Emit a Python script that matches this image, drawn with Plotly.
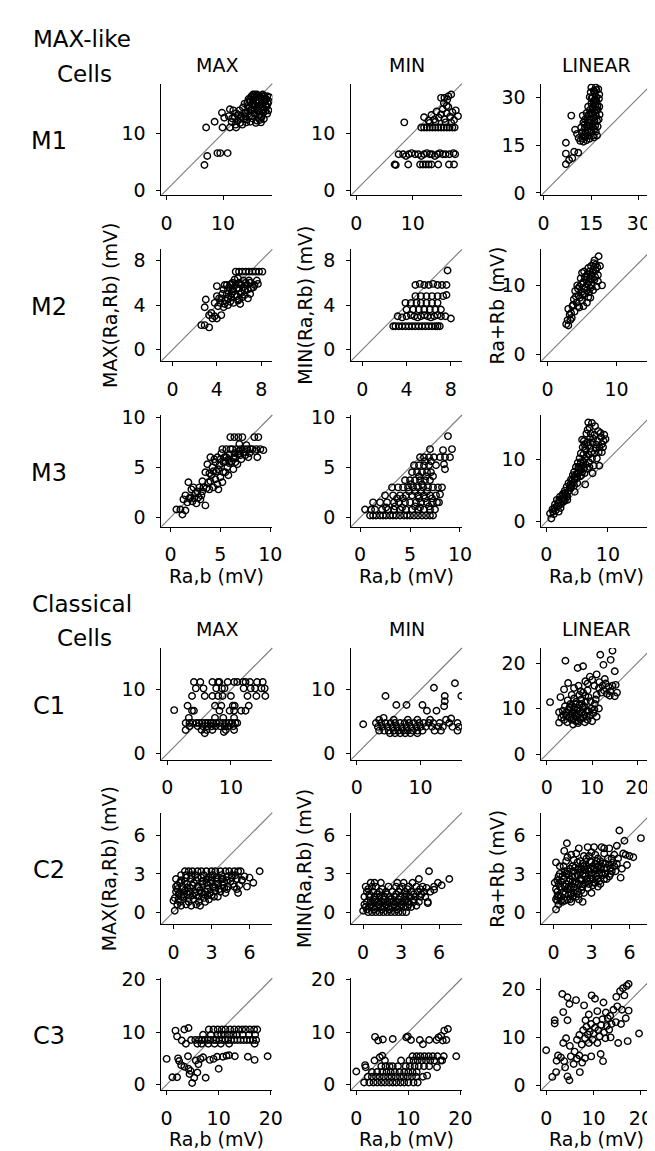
import plotly.graph_objects as go

# ---------------- data ----------------
m1_max = [(7.0,11.0),(8.5,12.0),(9.8,13.6),(10.2,12.7),(9.9,11.0),(11.2,11.0),(12.3,11.0),(9.0,6.5),(9.5,6.5),(10.8,6.5),(7.2,6.0),(6.7,4.4),
          (11.2,14.2),(11.8,14.0),(11.0,13.0),(11.6,12.6),
          (11.5,12.0),(12.0,12.8),(12.3,13.5),(12.6,12.2),(12.9,14.0),(13.0,11.8),(13.2,13.0),(13.5,14.5),(13.6,12.5),(13.8,15.2),(14.0,13.6),(14.1,11.9),
          (14.3,14.8),(14.5,16.0),(14.6,13.0),(14.8,15.5),(15.0,16.5),(15.0,14.2),(15.2,12.6),(15.3,15.8),(15.5,16.5),(15.5,13.5),(15.7,14.9),(15.9,16.5),
          (16.0,12.2),(16.0,15.3),(16.2,16.5),(16.3,14.0),(16.4,13.2),(16.5,16.5),(16.6,15.0),(16.8,12.8),(16.9,16.5),(17.0,14.5),(17.1,13.6),(17.3,16.5),
          (17.4,15.5),(17.5,13.9),(17.6,16.0),(17.8,16.5),(18.0,14.0),(17.2,12.5),(14.2,12.4),(13.4,11.5),(15.8,11.8),(16.7,11.9),(12.2,11.5),(17.7,14.7),
          (14.9,14.0),(13.9,13.0),(15.4,15.0),(16.1,13.9),(18.2,16.3),(15.1,16.2),(14.7,15.8),(16.6,16.2),(17.0,16.8),(16.0,16.8),(15.6,16.8),
          (15.2,15.0),(15.8,15.6),(16.4,15.6),(17.0,15.2),(16.2,14.6),(15.6,14.2),(17.5,15.0),(16.9,14.0),(14.4,13.8),(13.7,13.6),(14.8,12.0),
          (17.9,15.2),(16.5,12.3),(15.0,13.0),(17.3,14.2),(13.1,12.6),(12.7,13.2),(14.6,14.6),(17.8,13.4),(16.7,13.0),(18.1,15.6),(17.2,16.0),
          (15.3,16.8),(14.3,15.4)]

m1_min = [(6.8,4.5),(7.0,4.4),(9.2,4.5),(11.3,4.5),(11.8,4.5),(12.3,4.5),(12.8,4.5),(13.3,4.5),(14.5,4.5),(16.4,4.5),(17.3,4.5),
          (7.5,6.3),(8.3,6.3),(8.8,6.0),(9.3,6.3),(9.8,6.5),(10.4,6.3),(11.0,6.3),(11.5,6.0),(12.0,6.3),(12.5,6.5),(13.0,6.3),(13.4,6.3),
          (13.9,6.0),(14.4,6.3),(14.8,6.5),(15.3,6.3),(15.8,6.3),(16.5,6.3),(17.2,6.5),(17.5,6.3),
          (11.5,11.0),(12.0,11.0),(12.5,11.0),(13.0,11.0),(13.5,11.0),(14.0,11.0),(14.5,11.0),(15.0,11.0),(15.5,11.0),(16.0,11.0),(16.5,11.0),(17.0,11.0),(17.4,11.0),
          (12.0,12.8),(12.8,12.2),(13.3,13.2),(13.8,12.4),(14.2,13.8),(14.6,12.7),(15.0,13.3),(15.3,14.2),(15.6,12.5),(16.0,13.5),(16.3,14.6),(16.6,12.9),
          (17.0,13.7),(17.3,12.3),(17.6,14.0),(18.0,13.0),(14.0,12.0),(15.8,11.9),(16.8,11.8),(13.0,11.8),(16.0,14.8),(15.5,15.3),
          (15.0,16.2),(15.6,16.2),(16.3,16.5),(16.8,16.8),(16.1,15.9),(8.5,11.9)]

m1_lin = [(7.0,15.7),(7.0,12.3),(7.0,9.0),(8.0,10.3),(9.0,10.9),(9.6,12.9),(10.9,12.6),(8.7,24.2),(9.9,19.8),
          (10.5,18.5),(11.0,17.2),(11.5,16.3),(12.0,19.0),(12.2,17.0),(12.5,16.0),(12.8,18.3),(13.0,20.5),(13.2,17.5),(13.5,16.5),(13.7,19.5),
          (13.9,22.0),(14.0,18.0),(14.2,24.5),(14.3,21.0),(14.5,17.0),(14.6,26.0),(14.8,23.0),(15.0,19.5),(15.0,28.0),(15.2,25.0),(15.3,21.5),
          (15.4,30.0),(15.5,27.0),(15.6,18.0),(15.7,23.5),(15.8,32.0),(15.9,29.0),(16.0,25.5),(16.1,31.0),(16.2,21.0),(16.3,27.5),(16.4,33.0),
          (16.5,24.0),(16.6,30.0),(16.7,28.5),(16.8,22.5),(17.0,26.0),(17.2,32.5),(17.4,29.5),(17.6,24.5),(14.0,27.0),(13.5,25.0),(13.0,23.0),
          (12.5,22.0),(14.5,30.0),(15.0,33.0),(16.0,20.0),(11.8,20.5),(12.3,24.2),(14.8,31.5),(17.0,20.8),(16.8,18.0),
          (15.5,20.5),(16.0,22.5),(16.5,26.0),(16.9,27.2),(16.2,29.0),(15.9,31.8),(16.6,32.2),(15.3,26.4),(14.9,24.8),(14.4,22.8),(13.8,20.8),
          (13.3,18.8),(12.6,17.6),(14.9,19.0),(15.8,17.4),(16.4,19.2),(17.3,23.0),(17.5,27.0),(17.5,30.8),(16.3,24.8),(15.7,28.5),(15.1,29.6),
          (13.8,23.8),(12.9,21.5)]

m2_max = [(2.6,2.2),(2.9,2.2),(3.3,2.0),(2.9,3.8),(3.0,4.5),(3.3,3.1),(3.6,2.8),(4.0,2.8),(4.4,3.1),(3.8,3.0),(4.0,4.8),(4.0,5.7),(4.3,4.2),
          (4.5,5.0),(4.6,3.8),(4.7,5.8),(4.8,4.4),(5.0,5.3),(5.0,4.0),(5.2,5.8),(5.3,4.7),(5.4,6.0),(5.5,5.2),(5.5,4.2),(5.7,5.8),(5.8,4.8),
          (5.9,6.4),(6.0,5.5),(6.1,4.1),(6.2,5.8),(6.3,4.7),(6.4,6.2),(6.5,5.3),(6.6,7.0),(6.7,5.8),(6.8,4.6),(6.9,7.0),(7.0,6.0),(7.2,7.0),
          (7.3,5.6),(7.4,5.8),(7.5,7.0),(7.7,5.9),(7.8,7.0),(8.1,7.0),(6.0,7.0),(5.7,7.0),(6.3,7.0),(5.6,6.3),(4.9,5.8),(5.3,5.0),(6.0,4.5),
          (4.2,4.6),(7.0,5.0),(5.0,4.6),
          (4.4,4.6),(4.6,5.4),(4.9,5.0),(5.1,5.6),(5.2,4.3),(5.4,5.4),(5.6,4.9),(5.8,5.5),(5.9,4.4),(6.1,5.9),(6.2,5.1),(6.4,5.6),(6.5,4.9),
          (6.6,6.0),(6.8,5.4),(6.9,6.2),(7.1,5.5),(5.3,5.9),(4.7,4.1),(6.0,6.0),(7.6,6.2),(4.1,3.9),(3.5,3.3),(3.8,4.2)]

m2_min = [(2.8,2.1),(3.0,2.1),(3.3,2.1),(3.6,2.1),(3.9,2.1),(4.2,2.1),(4.5,2.1),(4.8,2.1),(5.1,2.1),(5.4,2.1),(5.7,2.1),(6.0,2.1),(6.3,2.1),
          (6.6,2.1),(6.8,2.1),(7.0,2.1),
          (3.2,3.0),(3.6,2.9),(4.0,3.0),(4.4,3.1),(4.7,3.0),(5.0,2.9),(5.3,3.0),(5.6,3.1),(5.9,3.0),(6.2,2.9),(6.5,3.0),(6.8,3.1),(7.1,3.0),(7.5,3.0),
          (4.0,3.6),(4.6,3.6),(5.1,3.6),(5.6,3.6),(6.1,3.6),(6.6,3.6),(7.1,3.6),
          (3.9,4.2),(4.4,4.2),(4.9,4.2),(5.3,4.2),(5.8,4.2),(6.3,4.2),(6.8,4.2),
          (4.8,4.8),(5.3,4.8),(5.8,4.8),(6.3,4.8),(6.8,4.8),(7.3,4.8),
          (4.8,5.8),(5.2,5.9),(5.6,5.8),(6.0,5.8),(6.4,5.9),(6.8,5.8),(7.2,5.8),
          (7.7,7.1),(8.0,2.8),(7.6,4.9),(7.6,5.8)]

m2_lin = [(2.7,4.4),(3.0,4.2),(2.9,5.0),(3.2,5.8),(3.0,6.6),(3.5,5.3),(3.6,7.0),(3.9,6.2),(3.8,8.0),(4.0,9.2),(4.2,7.5),(4.3,10.0),
          (4.5,8.5),(4.6,6.8),(4.8,11.0),(4.9,9.0),(5.0,7.8),(5.2,10.5),(5.3,12.0),(5.4,8.8),(5.5,9.8),(5.6,11.3),(5.7,7.5),(5.8,10.2),
          (5.9,12.5),(6.0,9.0),(6.1,11.0),(6.2,8.2),(6.3,12.8),(6.4,10.0),(6.5,11.8),(6.6,9.3),(6.7,13.2),(6.8,10.8),(7.0,12.2),(7.1,9.8),
          (7.3,11.5),(7.4,14.2),(7.6,12.8),(7.9,10.0),(5.0,11.8),(4.4,9.5),(3.4,6.0),(6.0,10.5),(5.6,10.8),(6.4,11.5),(7.0,13.0),(4.7,8.2),(5.3,9.5),
          (4.6,9.8),(5.1,8.6),(5.4,11.2),(5.8,11.6),(6.2,9.6),(6.6,12.2),(6.9,11.2),(7.2,12.6),(6.1,12.0),(5.7,9.3),(4.9,10.2),(4.1,8.4),
          (3.7,7.2),(6.8,13.6),(7.3,10.6),(5.9,8.3),(6.3,10.9),(5.2,7.0),(4.4,7.0),(3.3,5.0)]

m3_max = [(0.6,0.8),(1.0,0.8),(1.2,0.3),(1.5,0.7),(1.3,1.8),(1.5,2.2),(1.7,1.5),(1.8,3.5),(2.0,2.0),(2.2,1.6),(2.3,3.0),(2.5,2.4),(2.6,1.4),
          (2.8,2.0),(2.9,3.0),(3.0,1.8),(3.2,2.6),(3.3,3.0),(3.5,1.2),(3.5,4.5),(3.7,5.3),(3.8,3.5),(3.9,2.8),(4.0,6.0),(4.1,4.2),(4.2,5.0),
          (4.3,3.0),(4.4,5.8),(4.5,3.8),(4.6,4.6),(4.7,6.0),(4.8,2.8),(4.9,5.2),(5.0,4.0),(5.1,6.4),(5.2,3.5),(5.3,5.5),(5.4,6.0),(5.5,4.5),
          (5.6,6.8),(5.7,5.0),(5.8,4.2),(5.9,6.3),(6.0,8.0),(6.1,5.6),(6.2,6.8),(6.3,4.8),(6.4,8.0),(6.5,6.0),(6.6,6.8),(6.7,5.3),(6.8,8.0),
          (6.9,6.6),(7.0,6.8),(7.1,5.8),(7.2,8.0),(7.4,6.8),(7.5,6.2),(7.7,6.8),(7.8,6.0),(8.0,6.8),(8.2,6.8),(8.4,8.0),(8.6,6.8),(8.8,8.0),
          (9.0,6.8),(9.3,6.7),(8.7,6.0),(5.0,5.8),(4.3,4.6),(5.8,5.8),(6.5,5.5),(3.6,2.9),(2.7,2.6),
          (4.5,5.5),(5.3,4.5),(5.9,5.4),(6.4,6.4),(7.0,6.2),(6.0,6.8),(5.2,6.8),(5.6,6.0),(4.8,4.8),(4.0,3.6),(3.2,3.6),(6.8,6.3),(7.3,6.5),
          (7.9,6.4),(8.5,6.6),(6.3,5.9),(5.5,5.6),(4.7,3.3),(3.9,4.4),(2.1,2.8),(1.9,1.9),(2.4,1.9),(3.1,2.2),(6.9,7.3),(7.6,7.2)]

m3_min = [(1.0,0.2),(1.3,0.2),(1.6,0.2),(2.0,0.2),(2.3,0.2),(2.6,0.2),(3.0,0.2),(3.3,0.2),(3.6,0.2),(4.0,0.2),(4.4,0.2),(4.7,0.2),(5.0,0.2),
          (5.4,0.2),(5.8,0.2),(6.2,0.2),(6.6,0.2),(7.0,0.2),(7.3,0.2),
          (0.5,0.8),(1.1,0.8),(1.5,0.8),(2.2,0.8),(2.8,0.8),(3.4,0.8),(4.0,0.8),(4.6,0.8),(5.2,0.8),(5.8,0.8),(6.4,0.8),(7.0,0.8),(7.5,0.8),
          (1.3,1.5),(2.0,1.5),(2.7,1.5),(3.4,1.5),(3.9,1.5),(4.5,1.5),(5.0,1.5),(5.6,1.5),(6.1,1.5),(6.7,1.5),(7.2,1.5),(7.7,1.5),
          (2.5,2.2),(3.3,2.2),(4.0,2.2),(4.6,2.2),(5.2,2.2),(5.8,2.2),(6.4,2.2),(7.0,2.2),(7.6,2.2),
          (3.2,3.0),(3.8,3.0),(4.3,3.0),(4.8,3.0),(5.3,3.0),(5.8,3.0),(6.3,3.0),(6.8,3.0),(7.3,3.0),(7.8,3.0),(8.2,3.0),
          (4.5,3.7),(5.0,3.7),(5.5,3.7),(6.0,3.7),(6.5,3.7),(7.0,3.7),
          (5.2,4.5),(5.7,4.5),(6.2,4.5),(6.7,4.5),(7.1,4.5),
          (5.4,5.2),(5.9,5.2),(6.4,5.2),(6.9,5.2),(7.6,5.2),
          (6.0,6.0),(6.4,6.0),(6.9,6.0),(7.4,6.0),(8.0,6.0),(8.5,6.0),(9.0,6.0),
          (7.0,6.8),(8.3,6.7),(9.2,6.8),(8.8,8.1),(8.5,4.8),(8.0,2.3),(7.9,1.5),(8.4,5.3),
          (2.6,1.0),(3.5,1.1),(4.2,1.0),(5.5,1.1),(6.0,1.0),(6.9,1.1),(4.9,2.6),(5.5,2.6),(6.1,2.6),(6.7,2.6),(5.1,3.3),(6.2,3.3),
          (6.6,4.1),(5.9,4.1),(7.3,4.1),(6.5,5.6),(7.1,5.6),(3.7,1.9),(4.3,1.9),(5.9,1.9),(6.5,1.9),(7.2,1.9)]

m3_lin = [(0.6,1.3),(0.8,0.5),(1.0,2.0),(1.2,1.2),(1.4,2.8),(1.5,1.8),(1.7,3.5),(1.9,2.5),(2.0,3.0),(2.2,4.0),(2.4,2.8),(2.5,3.6),
          (2.7,4.5),(2.9,3.8),(3.0,5.0),(3.2,4.2),(3.3,5.6),(3.5,4.8),(3.6,6.2),(3.8,5.5),(4.0,6.8),(4.1,5.8),(4.3,7.5),(4.4,6.3),(4.5,8.0),
          (4.7,6.8),(4.8,8.8),(5.0,7.2),(5.1,9.5),(5.2,7.8),(5.4,10.2),(5.5,8.4),(5.6,11.0),(5.8,9.0),(5.9,12.0),(6.0,9.6),(6.1,13.0),
          (6.3,10.2),(6.4,11.5),(6.5,14.2),(6.6,8.5),(6.8,12.3),(6.9,10.8),(7.0,15.2),(7.1,13.5),(7.3,11.2),(7.5,12.8),(7.7,9.0),(7.8,14.0),
          (8.0,11.8),(8.3,13.0),(8.6,12.0),(9.0,12.5),(9.3,13.0),(9.6,13.3),(8.8,14.3),(7.4,15.9),(6.2,12.5),(5.3,8.5),(4.6,7.2),(3.9,6.0),
          (2.6,4.2),(1.1,1.6),(3.4,3.5),(5.7,7.5),(6.7,14.8),
          (1.3,2.2),(1.6,2.4),(2.1,3.5),(2.3,2.2),(2.8,3.2),(3.1,4.6),(3.4,4.0),(3.7,5.0),(4.0,5.4),(4.2,6.6),(4.5,5.8),(4.8,7.6),(5.0,6.2),
          (5.2,8.8),(5.5,7.3),(5.6,9.6),(5.8,8.0),(6.0,10.8),(6.1,8.6),(6.3,11.8),(6.4,9.2),(6.6,10.5),(6.7,12.8),(6.9,9.6),(7.1,11.8),
          (7.2,14.2),(7.4,10.2),(7.6,13.4),(7.8,11.0),(8.1,12.4),(8.4,14.6),(8.5,11.2),(8.9,13.6),(9.2,12.0),(3.0,3.4),(2.0,1.6),(4.6,4.8),
          (6.2,7.8),(7.0,8.8),(8.2,10.2),(9.0,11.2),(6.8,16.0),(5.8,13.2),(7.9,15.4),(9.4,14.0),(6.3,6.0),(7.5,7.8),(8.6,9.0)]

c1_max = [(1.1,6.8),
          (4.2,11.2),(5.2,11.2),(7.1,11.2),(8.0,11.2),(8.2,11.2),(9.5,11.2),(10.5,11.2),(11.0,11.2),(11.9,11.2),(12.3,11.2),(13.0,11.2),(14.1,11.2),(15.0,11.2),
          (4.5,10.2),(5.7,10.2),(7.7,10.2),(8.6,10.2),(9.0,10.2),(12.0,10.2),(13.1,10.2),(13.8,10.2),(14.8,10.2),(15.3,10.2),
          (3.9,9.0),(5.9,9.0),(7.1,9.0),(8.0,9.0),(8.7,9.0),(10.0,9.0),(12.6,9.0),(14.0,9.0),(15.4,9.0),
          (3.2,7.5),(7.5,7.5),(8.5,7.5),(10.3,7.5),(10.6,7.5),(12.8,7.5),
          (3.9,6.7),(4.2,6.7),(8.2,6.7),(9.8,6.7),(10.5,6.7),(11.6,6.7),(12.3,6.7),
          (3.4,5.6),(7.5,5.6),(8.8,5.6),(10.5,5.6),
          (2.9,4.8),(3.5,4.8),(4.0,4.8),(4.6,4.8),(5.0,4.8),(5.5,4.8),(6.0,4.8),(6.4,4.8),(6.8,4.8),(7.2,4.8),(7.7,4.8),(8.2,4.8),(8.7,4.8),
          (9.2,4.8),(9.7,4.8),(10.2,4.8),(10.7,4.8),(11.0,4.8),
          (3.5,4.3),(4.8,4.3),(5.6,4.3),(6.3,4.3),(7.0,4.3),(7.6,4.3),(8.3,4.3),(9.0,4.3),(9.6,4.3),(10.4,4.3),
          (2.9,3.7),(5.4,3.7),(6.2,3.7),(7.1,3.7),(9.2,3.7),(10.5,3.7),(5.9,3.2),(8.9,3.4)]

c1_min = [(1.0,4.6),(4.5,9.0),(6.2,7.6),(7.8,7.6),(10.3,7.6),(12.1,10.3),(13.8,9.0),(15.4,11.0),(16.4,9.0),(13.7,7.4),(13.8,8.2),(11.0,6.7),
          (12.5,6.7),(14.8,5.5),(4.2,5.6),
          (3.0,4.8),(3.8,4.8),(4.5,4.8),(5.3,4.8),(6.0,4.8),(6.8,4.8),(7.5,4.8),(8.2,4.8),(9.0,4.8),(9.8,4.8),(10.5,4.8),(11.3,4.8),(12.0,4.8),
          (13.0,4.8),(14.5,4.8),(15.8,4.8),
          (3.3,4.2),(4.0,4.2),(4.8,4.2),(5.6,4.2),(6.3,4.2),(7.0,4.2),(7.8,4.2),(8.5,4.2),(9.3,4.2),(10.0,4.2),(10.8,4.2),(11.8,4.2),(12.8,4.2),
          (13.5,4.2),(15.0,4.2),(16.0,4.2),
          (3.5,3.6),(4.3,3.6),(5.0,3.6),(5.8,3.6),(6.5,3.6),(7.3,3.6),(8.0,3.6),(8.8,3.6),(9.5,3.6),(10.3,3.6),(12.2,3.6),(13.2,3.6),(15.8,3.6),
          (5.2,3.2),(6.0,3.2),(6.8,3.2),(7.6,3.2),(8.4,3.2),(9.5,3.2),
          (3.5,5.3),(5.8,5.3),(8.0,5.3),(9.5,5.3),(11.5,5.3),(14.0,5.3)]

c1_lin = [(0.7,11.4),(2.7,9.2),(2.7,6.9),(3.0,12.5),(3.8,14.2),(4.1,20.5),(4.7,15.6),(6.8,18.9),(8.0,19.3),(11.8,21.8),(12.5,19.6),
          (14.1,20.7),(14.5,22.7),(15.0,18.2),(15.0,12.7),(5.5,13.0),(6.0,14.5),(7.0,15.0),(8.5,16.0),(9.0,15.5),(9.5,17.0),(10.0,16.3),
          (10.5,15.0),(11.0,17.5),(7.5,13.8),
          (3.2,8.0),(3.5,9.5),(3.8,7.5),(4.0,10.5),(4.3,8.5),(4.5,7.0),(4.8,9.8),(5.0,8.0),(5.2,11.0),(5.5,7.5),(5.6,9.2),(5.8,6.5),(6.0,10.2),
          (6.2,8.4),(6.4,7.2),(6.5,11.5),(6.7,9.6),(6.9,6.8),(7.0,8.8),(7.2,10.8),(7.4,7.6),(7.6,12.0),(7.8,9.2),(8.0,8.0),(8.2,10.5),(8.4,7.0),
          (8.6,11.5),(8.8,9.5),(9.0,7.5),(9.2,12.5),(9.5,8.5),(9.8,10.0),(10.0,7.2),(10.3,9.0),(10.6,11.0),(11.0,8.2),(6.0,12.2),(7.2,13.0),
          (5.0,10.2),(4.6,11.8),(8.0,13.5),(9.0,14.0),
          (11.0,13.0),(11.5,14.5),(12.0,13.5),(12.3,15.0),(12.6,14.0),(13.0,15.5),(13.3,13.2),(13.6,14.8),(14.0,13.8),(14.5,15.0),(15.2,15.2),
          (15.5,13.5),(10.8,12.0),(11.6,15.8),(12.8,16.5),(13.9,12.8),
          (5.3,8.6),(6.1,9.0),(6.6,8.2),(7.3,9.4),(7.9,10.2),(8.3,8.6),(6.8,10.2),(5.9,7.8),(7.0,7.2),(8.8,8.3),(9.3,9.4),(6.3,11.0),
          (7.7,11.0),(5.6,10.6),(4.4,9.2),(3.6,8.6),(9.7,11.6),(8.5,12.8),(10.5,9.8),(11.5,10.0)]

c2_max = [(0.9,3.2),(1.2,3.2),(1.5,3.2),(1.9,3.2),(2.2,3.2),(2.6,3.2),(3.0,3.2),(3.3,3.2),(3.7,3.2),(4.1,3.2),(4.4,3.2),(4.8,3.2),(5.1,3.2),(5.3,3.2),
          (0.2,2.6),(0.6,2.5),(1.0,2.7),(1.4,2.6),(1.8,2.5),(2.2,2.7),(2.6,2.6),(3.0,2.5),(3.4,2.7),(3.8,2.6),(4.2,2.5),(4.6,2.7),(5.0,2.6),(5.4,2.5),
          (0.3,2.1),(0.7,2.0),(1.1,2.2),(1.5,2.1),(1.9,2.0),(2.3,2.2),(2.7,2.1),(3.1,2.0),(3.5,2.2),(3.9,2.1),(4.3,2.0),(4.7,2.2),(5.2,2.1),(5.8,2.0),
          (0.2,1.6),(0.5,1.5),(0.9,1.7),(1.3,1.6),(1.7,1.5),(2.1,1.7),(2.5,1.6),(2.9,1.5),(3.3,1.7),(3.7,1.6),(4.1,1.5),(5.1,1.5),
          (0.1,1.1),(0.4,1.0),(0.8,1.2),(1.2,1.1),(1.6,1.0),(2.0,1.2),(2.4,1.1),(2.8,1.0),(3.2,1.2),
          (0.3,0.6),(0.6,0.5),(1.0,0.6),(1.4,0.5),(1.8,0.6),(2.1,0.5),
          (0.1,0.1),(6.8,3.2),(6.3,2.3),(5.4,2.5),(6.0,2.7),(4.0,1.9),(3.5,1.2),(2.5,0.8),(0.0,0.9),
          (0.4,1.4),(0.7,1.8),(0.5,0.8),(0.9,2.4),(1.1,1.4),(1.3,1.9),(1.6,2.3),(1.8,1.3),(2.0,1.9),(2.3,2.4),(2.4,1.4),(2.7,1.8),(2.9,2.3),
          (3.0,1.3),(3.2,2.0),(3.4,2.4),(3.6,1.8),(3.8,2.9),(4.0,2.3),(4.3,2.8),(4.5,2.4),(4.8,2.0),(4.9,2.9),(1.0,2.9),(1.7,2.9),(2.4,2.9),
          (3.1,2.9),(0.6,2.9),(2.0,0.8),(1.2,0.8),(1.5,1.3),(0.3,1.8),(3.5,2.6),(2.8,2.7),(5.6,2.8),(5.0,1.8),
          (0.2,2.0),(0.5,2.3),(0.8,1.4),(1.4,2.9),(2.2,1.5),(2.6,2.3),(3.3,1.9),(3.9,2.6),(4.2,1.8),(4.6,2.9),(1.9,2.7),(0.6,1.2),(1.1,1.9),
          (2.7,1.3),(3.0,2.7)]

c2_min = [(0.4,0.0),(0.7,0.0),(1.0,0.0),(1.3,0.0),(1.6,0.0),(1.9,0.0),(2.2,0.0),(2.5,0.0),(2.8,0.0),(3.1,0.0),(3.4,0.0),
          (0.2,0.4),(0.5,0.4),(0.8,0.4),(1.1,0.4),(1.4,0.4),(1.7,0.4),(2.0,0.4),(2.3,0.4),(2.6,0.4),(2.9,0.4),(3.2,0.4),(3.5,0.4),(3.8,0.4),
          (0.3,0.8),(0.6,0.8),(0.9,0.8),(1.2,0.8),(1.5,0.8),(1.8,0.8),(2.1,0.8),(2.4,0.8),(2.7,0.8),(3.0,0.8),(3.3,0.8),(3.6,0.8),(4.0,0.8),(4.4,0.8),(5.1,0.8),
          (0.1,1.2),(0.5,1.2),(0.9,1.2),(1.3,1.2),(1.7,1.2),(2.1,1.2),(2.5,1.2),(2.9,1.2),(3.3,1.2),(3.7,1.2),(4.1,1.2),(4.5,1.2),(4.9,1.2),
          (0.3,1.6),(0.8,1.6),(1.3,1.6),(1.8,1.6),(2.3,1.6),(2.8,1.6),(3.3,1.6),(3.8,1.6),(4.3,1.6),(4.8,1.6),(5.3,1.6),
          (0.2,2.0),(0.7,2.0),(1.0,2.0),(2.0,2.0),(2.6,2.0),(3.1,2.0),(3.6,2.0),(4.2,2.0),(4.7,2.0),(5.6,2.0),
          (0.6,2.3),(0.9,2.3),(1.4,2.3),(2.7,2.3),(3.2,2.3),(3.9,2.3),
          (0.0,0.1),(5.2,3.2),(6.8,2.6),(6.2,2.1),(5.6,1.75),(5.1,0.7),(4.4,2.6),(5.9,2.3),
          (0.3,0.2),(0.9,0.2),(1.5,0.2),(2.1,0.2),(2.7,0.2),(0.6,0.6),(1.2,0.6),(1.8,0.6),(2.4,0.6),(3.0,0.6),(3.6,0.6),(1.0,1.0),(1.6,1.0),
          (2.2,1.0),(2.8,1.0),(3.4,1.0),(4.0,1.0),(0.5,1.4),(1.1,1.4),(1.9,1.4),(2.6,1.4),(3.4,1.4),(4.0,1.4),(4.6,1.4),(0.4,1.8),(1.5,1.8),
          (2.9,1.8),(3.5,1.8),(4.5,1.8),(5.0,1.9),(0.1,0.6),(4.2,0.5)]

c2_lin = [(0.2,0.2),(0.1,2.3),(0.2,3.9),(1.06,5.4),(0.85,4.8),(2.8,4.4),(2.7,5.1),(5.2,6.4),(5.6,5.6),(6.9,5.8),(6.0,4.4),(6.3,4.3),
          (5.8,3.7),(5.3,2.7),(4.5,3.0),(3.8,5.1),(4.0,4.6),(4.8,4.5),(5.0,5.2),(3.5,4.2),
          (0.2,1.0),(0.3,1.6),(0.4,0.6),(0.5,2.0),(0.6,1.2),(0.7,2.8),(0.8,1.6),(0.9,0.9),(1.0,2.2),(1.1,3.2),(1.2,1.4),(1.3,2.6),(1.4,0.8),
          (1.5,3.6),(1.6,1.9),(1.7,2.8),(1.8,1.2),(1.9,3.3),(2.0,2.2),(2.1,4.0),(2.2,1.7),(2.3,2.9),(2.4,3.6),(2.5,2.3),(2.6,4.2),(2.7,1.9),
          (2.8,3.2),(2.9,2.6),(3.0,3.9),(3.1,2.1),(3.2,3.4),(3.3,4.5),(3.4,2.8),(3.5,3.6),(3.6,2.4),(3.7,4.0),(3.8,3.1),(3.9,3.8),(4.0,2.6),
          (4.2,3.5),(4.3,4.2),(4.5,3.4),(4.7,3.9),(4.9,3.2),(1.0,4.0),(0.5,3.0),(1.4,4.5),(2.0,5.0),(1.8,4.6),(0.3,2.5),(2.3,0.8),(2.0,3.4),
          (1.2,2.0),(0.6,1.9),(3.0,1.5),(2.5,3.3),(1.5,2.4),(3.5,2.0),(4.0,5.0),(3.2,5.1),
          (0.4,1.3),(0.7,0.8),(0.9,2.0),(1.1,1.0),(1.3,1.8),(1.5,1.2),(1.7,2.2),(1.9,1.6),(2.1,2.6),(2.3,2.0),(2.5,2.8),(2.7,2.4),(2.9,3.4),
          (3.1,2.6),(3.3,3.0),(3.5,2.6),(3.7,3.4),(3.9,2.9),(4.1,3.8),(4.4,2.8),(0.6,2.4),(1.2,3.0),(1.6,3.2),(2.2,3.4),(0.8,3.6),(1.9,3.9),
          (2.6,3.6),(3.4,4.0),(4.6,4.2),(0.3,0.9),(1.4,1.4),(2.4,1.5),(3.3,2.3),(4.1,3.0),(5.0,3.8),(5.5,4.6),(4.4,5.0),(0.5,3.6),
          (0.2,1.8),(0.4,2.2),(0.6,0.9),(0.8,2.6),(0.9,1.4),(1.0,3.0),(1.1,1.8),(1.2,2.4),(1.3,3.4),(1.4,2.0),(1.5,2.8),(1.6,1.5),(1.7,3.5),
          (1.8,2.4),(1.9,2.9),(2.0,1.4),(2.1,3.1),(2.2,2.5),(2.3,3.8),(2.4,2.2),(2.5,3.0),(2.6,2.6),(2.7,3.4),(2.8,2.2),(2.9,4.0),(3.0,2.9),
          (3.1,3.6),(3.2,2.3),(3.3,3.8),(3.4,3.3),(3.6,3.0),(3.7,2.2),(3.8,3.6),(4.0,3.4),(4.2,2.6),(4.4,3.7),(4.6,3.2),(4.8,3.6),(5.1,4.2),
          (5.4,3.4),(5.7,4.5),(1.1,4.3),(1.6,4.1),(2.4,4.4),(3.0,4.7),(0.9,3.2),(0.4,2.8),(0.3,1.2),(1.3,1.0),(2.0,1.0)]

c3_max = [(0.0,4.9),(1.1,1.4),(2.0,1.4),(1.7,10.3),(2.0,9.2),(2.9,8.4),(3.4,10.5),(4.2,10.8),(3.7,7.8),(2.2,5.0),(2.4,4.5),(2.8,3.7),
          (3.4,3.4),(4.1,5.4),(4.2,3.0),(4.4,2.0),(4.6,2.6),(4.9,0.3),(5.3,1.3),(5.9,2.3),(6.1,3.9),(6.5,4.9),(7.5,1.3),(8.3,4.7),(10.0,3.0),
          (9.7,5.3),(10.8,5.3),(11.5,5.5),(13.1,5.4),(15.6,5.3),(16.9,4.7),(19.4,5.4),(5.6,4.6),(7.0,5.2),(9.0,4.9),(12.0,5.6),
          (4.7,8.5),(5.5,8.5),(6.2,8.5),(6.8,8.5),(7.3,8.5),(7.9,8.5),(8.4,8.5),(9.0,8.5),(9.5,8.5),(10.1,8.5),(10.7,8.5),(11.3,8.5),(11.8,8.5),
          (12.4,8.5),(13.0,8.5),(13.6,8.5),(14.2,8.5),(14.8,8.5),(15.4,8.5),(16.0,8.5),(16.6,8.5),(17.2,8.5),
          (7.0,9.5),(8.5,9.5),(9.8,9.5),(10.5,9.5),(11.2,9.5),(12.0,9.5),(12.8,9.5),(13.5,9.5),(14.6,9.5),(15.8,9.5),(17.0,9.5),
          (8.1,10.5),(9.0,10.5),(9.8,10.5),(10.6,10.5),(11.3,10.5),(12.2,10.5),(13.0,10.5),(13.8,10.5),(14.5,10.5),(15.2,10.5),(16.0,10.5),
          (16.8,10.5),(17.4,10.5),
          (5.9,7.8),(6.7,7.8),(8.0,7.8),(9.2,7.8),(10.4,7.8),(12.0,7.8),(16.9,7.8)]

c3_min = [(0.0,2.5),(1.7,3.7),(1.8,3.3),(3.6,9.1),(4.2,8.4),(5.1,8.6),(7.0,8.7),(9.6,9.0),(9.9,9.2),(10.5,8.5),(12.2,8.5),(12.8,7.7),
          (14.0,8.5),(15.4,8.5),(15.8,9.0),(16.3,9.3),(16.9,10.3),(17.6,10.6),(17.3,8.5),(16.6,8.4),(19.2,5.4),(16.2,4.6),(15.5,3.3),
          (13.6,1.7),(4.5,5.2),(5.0,5.5),(3.5,4.6),
          (1.5,0.4),(2.5,0.4),(3.3,0.4),(4.0,0.4),(4.8,0.4),(5.5,0.4),(6.3,0.4),(7.0,0.4),(7.7,0.4),(8.5,0.4),(9.2,0.4),(10.0,0.4),(11.0,0.4),(11.8,0.4),
          (2.2,1.5),(3.0,1.5),(3.8,1.5),(4.5,1.5),(5.3,1.5),(6.1,1.5),(6.8,1.5),(7.6,1.5),(8.4,1.5),(9.1,1.5),(9.9,1.5),(10.7,1.5),(11.5,1.5),(12.8,1.5),
          (3.0,2.4),(4.0,2.4),(5.0,2.4),(5.8,2.4),(6.6,2.4),(7.4,2.4),(8.3,2.4),(9.2,2.4),(10.0,2.4),(10.8,2.4),(11.6,2.4),
          (4.8,3.5),(5.6,3.5),(6.4,3.5),(7.0,3.5),(8.0,3.5),(9.5,3.5),(10.3,3.5),(11.2,3.5),(12.0,3.5),(13.0,3.5),(14.0,3.5),
          (5.5,4.6),(8.6,4.6),(10.2,4.6),(11.0,4.6),(11.8,4.6),(12.6,4.6),(13.4,4.6),(14.2,4.6),(15.0,4.6),(16.5,4.6),
          (10.8,5.4),(11.6,5.4),(12.3,5.4),(13.1,5.4),(13.9,5.4),(14.7,5.4),(15.6,5.4),(16.8,5.4)]

c3_lin = [(0.0,7.3),(1.3,1.7),(2.1,2.7),(1.8,12.9),(1.8,13.6),(3.4,19.1),(4.5,18.4),(4.9,17.0),(3.6,15.3),(4.5,13.6),(6.3,17.8),(8.0,16.7),
          (9.6,18.8),(10.3,18.1),(12.1,17.3),(15.6,19.7),(16.2,20.3),(17.0,20.8),(17.4,21.2),(14.8,18.5),(16.5,18.8),(17.2,9.2),(15.2,8.8),
          (19.6,10.8),(14.7,13.2),(17.4,15.6),(16.0,15.8),(15.0,16.5),(13.5,14.5),(14.2,15.8),(16.8,14.0),(15.8,12.8),
          (2.2,5.1),(3.1,5.8),(3.6,8.8),(4.0,3.7),(4.5,1.8),(4.9,1.0),(5.8,4.4),(7.1,2.7),(7.6,4.7),(2.5,6.2),(3.8,5.0),(5.2,6.0),(6.0,7.0),
          (6.5,5.5),(5.0,8.2),(4.2,9.8),(7.0,6.2),(8.2,5.6),
          (6.5,9.5),(7.0,10.5),(7.5,8.5),(7.8,11.5),(8.2,9.8),(8.5,12.2),(8.8,10.6),(9.0,8.8),(9.2,11.2),(9.5,12.8),(9.8,9.5),(10.0,10.8),
          (10.3,12.0),(10.6,13.5),(10.8,8.8),(11.0,11.5),(11.3,10.2),(11.6,12.6),(11.9,13.8),(12.2,11.0),(12.5,9.8),(12.8,12.4),(13.0,14.0),
          (13.3,11.6),(13.6,10.0),(9.0,14.8),(10.8,15.5),(11.5,6.5),(12.0,5.0),(9.5,6.0),(12.6,15.2),(8.3,13.6),(13.8,12.8)]

# axis ranges and ticks per panel (row-major)
panel_data = [m1_max, m1_min, m1_lin, m2_max, m2_min, m2_lin, m3_max, m3_min, m3_lin,
              c1_max, c1_min, c1_lin, c2_max, c2_min, c2_lin, c3_max, c3_min, c3_lin]
panel_range = [[-0.9, 18.7], [-0.9, 18.7], [-0.7, 34.2],
               [-1.0, 9.0], [-1.0, 9.0], [-0.9, 15.2],
               [-0.9, 10.2], [-0.9, 10.2], [-0.8, 17.2],
               [-0.9, 16.5], [-0.9, 16.5], [-1.2, 23.3],
               [-0.95, 7.8], [-0.95, 7.8], [-0.95, 7.8],
               [-1.0, 20.3], [-1.0, 20.3], [-1.0, 22.4]]
panel_ticks = [[0, 10], [0, 10], [0, 15, 30],
               [0, 4, 8], [0, 4, 8], [0, 10],
               [0, 5, 10], [0, 5, 10], [0, 10],
               [0, 10], [0, 10], [0, 10, 20],
               [0, 3, 6], [0, 3, 6], [0, 3, 6],
               [0, 10, 20], [0, 10, 20], [0, 10, 20]]

col_titles = ["MAX", "MIN", "LINEAR"]
row_labels = ["M1", "M2", "M3", "C1", "C2", "C3"]
group_lines = [["MAX-like", "Cells"], ["Classical", "Cells"]]
y_titles = ["MAX(Ra,Rb) (mV)", "MIN(Ra,Rb) (mV)", "Ra+Rb (mV)"]
x_title = "Ra,b (mV)"

# ---------------- layout geometry (pixels) ----------------
W, H = 655, 1151
FONT = "DejaVu Sans"
col_left = [152.7, 346.5, 541.0]
row_top = [66.7, 235.0, 403.3, 640.0, 807.3, 975.5]
PW, PH = 113.3, 113.3

def px_x(x):
    return x / W

def px_y(y):
    return 1 - y / H

fig = go.Figure()
layout = dict(width=W, height=H, margin=dict(l=0, r=0, t=0, b=0),
              paper_bgcolor="white", plot_bgcolor="white", showlegend=False,
              font=dict(family=FONT, size=19, color="black"))
shapes = []
annotations = []

axis_common = dict(showline=True, linecolor="black", linewidth=1, ticks="outside", ticklen=4,
                   tickwidth=1, tickcolor="black", showgrid=False, zeroline=False,
                   tickfont=dict(family=FONT, size=19, color="black"))

for k in range(18):
    r, c = divmod(k, 3)
    sfx = "" if k == 0 else str(k + 1)
    pts = panel_data[k]
    xs = [p[0] for p in pts]
    ys = [p[1] for p in pts]
    fig.add_trace(go.Scatter(x=xs, y=ys, mode="markers", xaxis="x" + sfx, yaxis="y" + sfx,
                             marker=dict(symbol="circle-open", size=6.5, color="black",
                                         line=dict(width=1.4, color="black")),
                             hoverinfo="skip"))
    l = col_left[c]
    t = row_top[r]
    layout["xaxis" + sfx] = dict(axis_common, domain=[px_x(l), px_x(l + PW)], range=panel_range[k],
                                 tickvals=panel_ticks[k], anchor="y" + sfx, ticklabelstandoff=7)
    layout["yaxis" + sfx] = dict(axis_common, domain=[px_y(t + PH), px_y(t)], range=panel_range[k],
                                 tickvals=panel_ticks[k], anchor="x" + sfx, ticklabelstandoff=7)
    shapes.append(dict(type="line", xref="x" + sfx + " domain", yref="y" + sfx + " domain",
                       x0=0, y0=0, x1=1, y1=1, layer="below",
                       line=dict(color="#7a7a7a", width=1.1)))

def ann(text, x, y, size, angle=0):
    annotations.append(dict(text=text, x=px_x(x), y=px_y(y), xref="paper", yref="paper",
                            showarrow=False, xanchor="center", yanchor="middle",
                            textangle=angle, font=dict(family=FONT, size=size, color="black")))

# column titles
for top in (row_top[0], row_top[3]):
    for c in range(3):
        ann(col_titles[c], col_left[c] + PW / 2, top - 19, 19)
# group titles (two separate lines)
for g, top in enumerate((row_top[0], row_top[3])):
    ann(group_lines[g][0], 72, top - 45, 23)
    ann(group_lines[g][1], 74, top - 10, 23)
# row labels
for r in range(6):
    ann(row_labels[r], 38, row_top[r] + PH / 2 + 2, 24)
# y-axis titles (rows 2 and 5)
ytx = [100, 299, 496]
for r in (1, 4):
    for c in range(3):
        ann(y_titles[c], ytx[c], row_top[r] + PH / 2, 19, -90)
# x-axis titles (rows 3 and 6)
for r in (2, 5):
    for c in range(3):
        ann(x_title, col_left[c] + PW / 2, row_top[r] + PH + 50, 19)

layout["shapes"] = shapes
layout["annotations"] = annotations
fig.update_layout(**layout)
fig.write_html("out.html")
